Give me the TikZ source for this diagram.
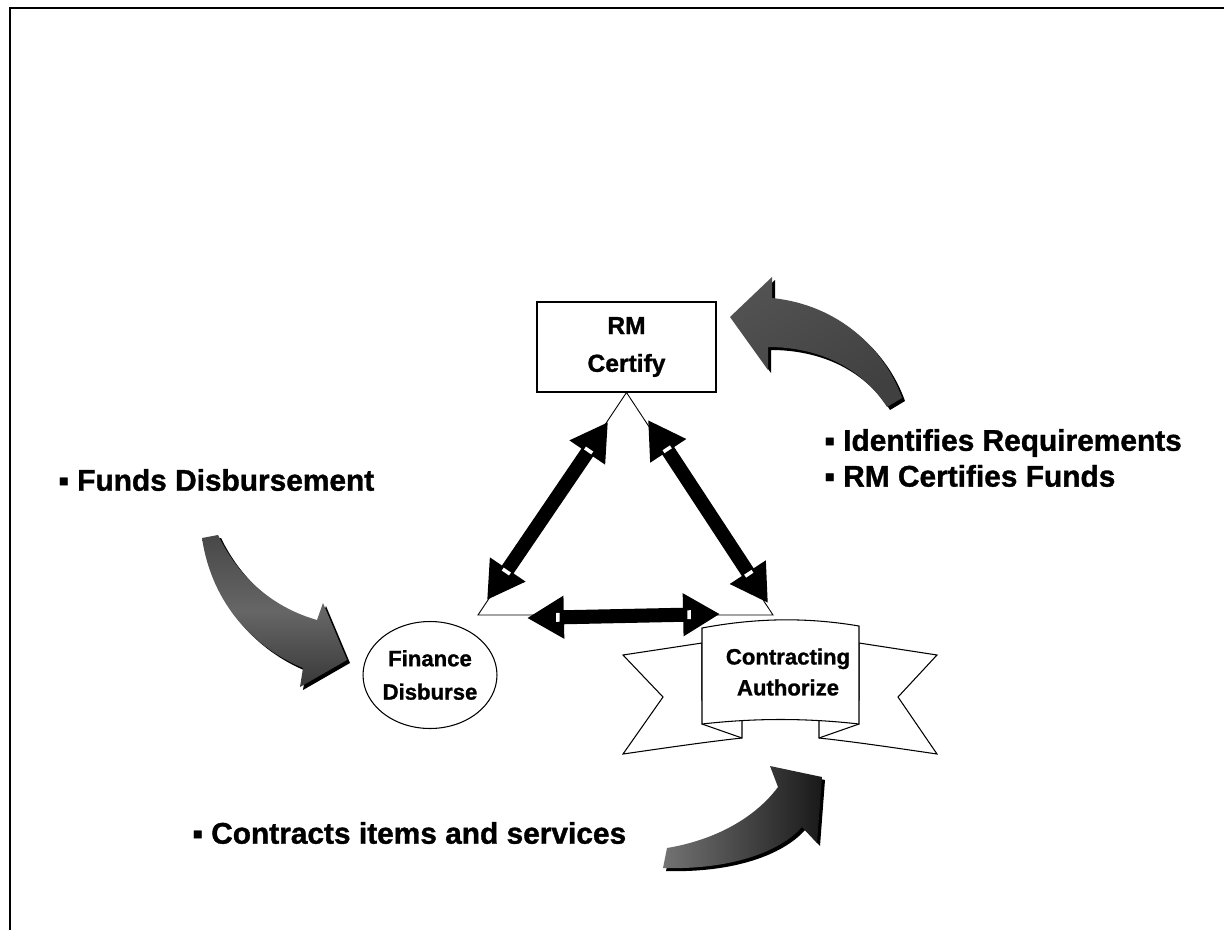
\documentclass[tikz,border=0pt]{standalone}
\usepackage{fontspec}
\setmainfont[BoldFeatures={FakeBold=1.2}]{Liberation Sans}
\usepackage{tikz}
\usetikzlibrary{arrows.meta, positioning, shapes.geometric}

% outlines of the three curved gray arrows
\newcommand{\swUp}{(730,317) -- (772,277) -- (772,298) .. controls (840,305) and (885,350) .. (902,398) -- (887,407) .. controls (860,365) and (815,347) .. (768,347) -- (768,370) -- cycle}
\newcommand{\swDown}{(202,538) -- (218,535) .. controls (240,580) and (275,608) .. (317,620) -- (323,603) -- (347,660) -- (300,687) -- (303,668) .. controls (255,648) and (212,605) .. cycle}
\newcommand{\swRight}{(663,868) -- (667,848) .. controls (715,840) and (755,818) .. (778,787) -- (770,766) -- (822,777) -- (817,843) -- (802,827) .. controls (780,852) and (730,870) .. cycle}

\begin{document}
\begin{tikzpicture}[x=0.02cm, y=-0.02cm,
        box/.style={rectangle, draw=black, line width=0.6pt, fill=white, minimum width=3.58cm, minimum height=1.8cm, align=center, font=\bfseries\fontsize{14}{21.5}\selectfont},
        bubble/.style={ellipse, draw=black, line width=0.6pt, fill=white, minimum width=2.68cm, minimum height=2.14cm, inner sep=0pt, align=center, font=\bfseries\fontsize{12.6}{19}\selectfont},
        banner/.style={align=center, inner sep=0pt, font=\bfseries\fontsize{12.6}{17.6}\selectfont},
        note/.style={anchor=west, align=left, inner sep=0pt, font=\bfseries\fontsize{17}{20.4}\selectfont},
        ribbon/.style={draw=black, line width=0.6pt, fill=white},
        link/.style={line width=8pt, {Triangle[length=21pt, width=23pt]}-{Triangle[length=21pt, width=23pt]}},
        tick/.style={sloped, fill=white, inner sep=0pt, minimum width=2pt, minimum height=5pt},
        shadow/.style={fill=black, shift={(3,3)}}
    ]
        \useasboundingbox (0,0) rectangle (1224,930);
        \draw[line width=1.7pt] (10,930) -- (10,8) -- (1224,8);

        % Roles
        \node[box] (rm) at (626.5,347) {RM\\Certify};
        \node[bubble] (fin) at (430,675) {Finance\\Disburse};

        % Ribbon
        \draw[ribbon] (702,643) -- (623,655) -- (663,697) -- (623,754) .. controls (665,748) and (705,742) .. (742,738) -- (742,700) -- (702,700) -- cycle;
        \draw[ribbon] (859,643) -- (937,655) -- (898,697) -- (937,754) .. controls (896,748) and (856,742) .. (819,738) -- (819,700) -- (859,700) -- cycle;
        \draw[line width=0.6pt] (702,724) -- (742,738);
        \draw[line width=0.6pt] (859,724) -- (819,738);
        \draw[ribbon] (702,628) .. controls (755,618) and (806,617) .. (859,626) -- (859,724) .. controls (806,718) and (755,718) .. (702,724) -- cycle;
        \node[banner] (con) at (788,672) {Contracting\\Authorize};

        % Triangle
        \coordinate (cl) at (478,615);
        \coordinate (cr) at (773,615);
        \draw[line width=0.5pt, fill=white] (rm.south) -- (cl) -- (cr) -- cycle;

        % Links
        \coordinate (lt) at (608,422);
        \coordinate (lb) at (487,600);
        \coordinate (rt) at (648,420);
        \coordinate (rb) at (768,603);
        \coordinate (bl) at (527,618);
        \coordinate (br) at (720,614);
        \draw[link] (lt) -- (lb) node[tick, pos=0.16] {} node[tick, pos=0.84] {};
        \draw[link] (rt) -- (rb) node[tick, pos=0.16] {} node[tick, pos=0.84] {};
        \draw[link] (bl) -- (br) node[tick, pos=0.16] {} node[tick, pos=0.84] {};

        % Curved arrows
        \fill[shadow] \swUp;
        \shade[left color=black!68, right color=black!75, shading angle=30] \swUp;
        \fill[shadow] \swDown;
        \shade[top color=black!72, bottom color=black!78, middle color=black!60] \swDown;
        \fill[shadow] \swRight;
        \shade[left color=black!55, right color=black!90] \swRight;

        % Notes
        \node[note] (funds) at (58,480) {▪ Funds Disbursement};
        \node[note] (reqs) at (824,458) {▪ Identifies Requirements\\▪ RM Certifies Funds};
        \node[note] (items) at (192,833) {▪ Contracts items and services};
    \end{tikzpicture}
\end{document}
